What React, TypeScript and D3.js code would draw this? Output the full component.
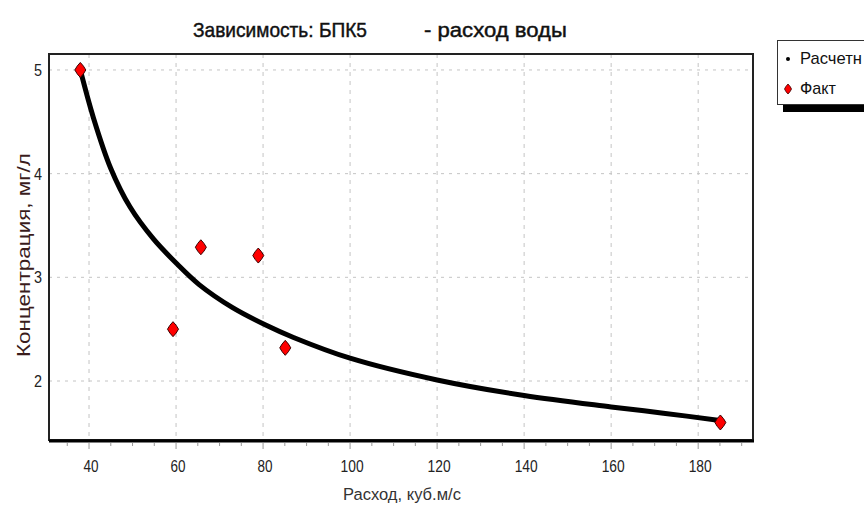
import React, { useLayoutEffect, useRef, useState } from "react";
import * as d3 from "d3";

const titleLeft = "Зависимость: БПК5";
const titleRight = "- расход воды";
const xAxisLabel = "Расход, куб.м/с";
const yAxisLabel = "Концентрация, мг/л";
const legendNames = ["Расчетн", "Факт"];

const xTicks = [40, 60, 80, 100, 120, 140, 160, 180];
const yTicks = [2, 3, 4, 5];

// Fitted ("Расчетный") curve
const calcX = [38, 41, 45, 49.4, 54.8, 60.2, 65.3, 72.9, 80.6, 87, 100, 120, 140, 160, 172, 185];
const calcY = [5.0, 4.54, 4.05, 3.68, 3.37, 3.13, 2.93, 2.71, 2.54, 2.42, 2.22, 2.01, 1.86, 1.75, 1.69, 1.62];

// Actual ("Факт") points
const factX = [38, 59.3, 65.7, 78.9, 85.1, 185.1];
const factY = [5.0, 2.5, 3.29, 3.21, 2.32, 1.6];

const W = 864;
const H = 507;
const plot = { left: 49, top: 54, right: 753, bottom: 440 };
const FONT = "'Liberation Sans', Arial, sans-serif";

const marker = "M0,-7.5 Q3.5,-4 5.5,0 Q3.5,4 0,7.5 Q-3.5,4 -5.5,0 Q-3.5,-4 0,-7.5 Z";

// Text scaled horizontally to a given width
function FitText(props: {
  x: number;
  y: number;
  width: number;
  size: number;
  fill: string;
  rotate?: boolean;
  bold?: boolean;
  children: string;
}) {
  const ref = useRef<SVGTextElement>(null);
  const [sx, setSx] = useState(1);
  useLayoutEffect(() => {
    if (ref.current) {
      const w = ref.current.getComputedTextLength();
      if (w > 0) setSx(props.width / w);
    }
  }, [props.width, props.children]);
  const tr = props.rotate
    ? `translate(${props.x},${props.y}) rotate(-90) scale(${sx},1)`
    : `translate(${props.x},${props.y}) scale(${sx},1)`;
  return (
    <text
      ref={ref}
      transform={tr}
      fontSize={props.size}
      fill={props.fill}
      stroke={props.bold ? props.fill : "none"}
      strokeWidth={props.bold ? 0.45 : 0}
    >
      {props.children}
    </text>
  );
}

export default function App() {
  const x = d3.scaleLinear().domain([30.8, 192.6]).range([plot.left, plot.right]);
  const y = d3.scaleLinear().domain([1.431, 5.154]).range([plot.bottom, plot.top]);

  const minorTicks = d3.range(35, 192, 5);

  const line = d3
    .line<number>()
    .x((i) => x(calcX[i]))
    .y((i) => y(calcY[i]))
    .curve(d3.curveCatmullRom.alpha(0.5));
  const curvePath = line(d3.range(calcX.length)) || "";

  return (
    <svg
      width={W}
      height={H}
      viewBox={`0 0 ${W} ${H}`}
      style={{ position: "absolute", left: 0, top: 0, background: "#fff", overflow: "hidden" }}
      fontFamily={FONT}
    >
      <rect x={0} y={0} width={W} height={H} fill="#fff" />
      {/* title */}
      <FitText x={193} y={37} width={174} size={21} fill="#111" bold>
        {titleLeft}
      </FitText>
      <FitText x={424} y={37} width={143} size={21} fill="#111" bold>
        {titleRight}
      </FitText>

      {/* grid */}
      {xTicks.map((t) => (
        <line
          key={"gx" + t}
          x1={x(t)}
          x2={x(t)}
          y1={plot.top}
          y2={plot.bottom}
          stroke="#c4c4c4"
          strokeWidth={1}
          strokeDasharray="4,5"
        />
      ))}
      {yTicks.map((t) => (
        <line
          key={"gy" + t}
          x1={plot.left}
          x2={plot.right}
          y1={y(t)}
          y2={y(t)}
          stroke="#c4c4c4"
          strokeWidth={1}
          strokeDasharray="3,5"
        />
      ))}

      {/* frame */}
      <rect
        x={plot.left}
        y={plot.top}
        width={plot.right - plot.left}
        height={plot.bottom - plot.top}
        fill="none"
        stroke="#222"
        strokeWidth={2}
      />
      <line x1={plot.left} x2={plot.right + 1} y1={plot.bottom + 1} y2={plot.bottom + 1} stroke="#000" strokeWidth={3} />

      {/* x ticks */}
      {minorTicks.map((t) => (
        <line
          key={"mx" + t}
          x1={x(t)}
          x2={x(t)}
          y1={plot.bottom + 3}
          y2={plot.bottom + (t % 20 === 0 ? 9 : 6)}
          stroke="#999"
          strokeWidth={1}
        />
      ))}
      {xTicks.map((t) => (
        <text
          key={"tx" + t}
          x={x(t) + 2}
          y={472}
          fontSize={16}
          textAnchor="middle"
          fill="#222"
          textLength={t >= 100 ? 23 : 15}
          lengthAdjust="spacingAndGlyphs"
        >
          {t}
        </text>
      ))}
      {yTicks.map((t) => (
        <text key={"ty" + t} x={42} y={y(t) + 6} fontSize={16} textAnchor="end" fill="#222" textLength={8} lengthAdjust="spacingAndGlyphs">
          {t}
        </text>
      ))}

      {/* axis labels */}
      <FitText x={343} y={500} width={118} size={17} fill="#333">
        {xAxisLabel}
      </FitText>
      <FitText x={30} y={357} width={204} size={19} fill="#3a1c1c" rotate>
        {yAxisLabel}
      </FitText>

      {/* calc curve */}
      <path d={curvePath} fill="none" stroke="#000" strokeWidth={5} strokeLinejoin="round" strokeLinecap="round" />

      {/* fact points */}
      {factX.map((v, i) => (
        <path
          key={"p" + i}
          d={marker}
          transform={`translate(${x(v)},${y(factY[i])})`}
          fill="#ff0000"
          stroke="#3a0000"
          strokeWidth={1}
        />
      ))}

      {/* legend */}
      <rect x={783} y={104} width={100} height={8} fill="#000" />
      <rect x={777.5} y={40.5} width={100} height={64} fill="#fff" stroke="#333" strokeWidth={1} />
      <circle cx={788} cy={59} r={2} fill="#000" />
      <FitText x={800} y={64} width={62} size={16} fill="#111">
        {legendNames[0]}
      </FitText>
      <path d="M0,-5 Q2.5,-2.5 3.5,0 Q2.5,2.5 0,5 Q-2.5,2.5 -3.5,0 Q-2.5,-2.5 0,-5 Z" transform="translate(788,89)" fill="#ff0000" stroke="#3a0000" strokeWidth={0.8} />
      <FitText x={800} y={94} width={36} size={16} fill="#111">
        {legendNames[1]}
      </FitText>
    </svg>
  );
}
